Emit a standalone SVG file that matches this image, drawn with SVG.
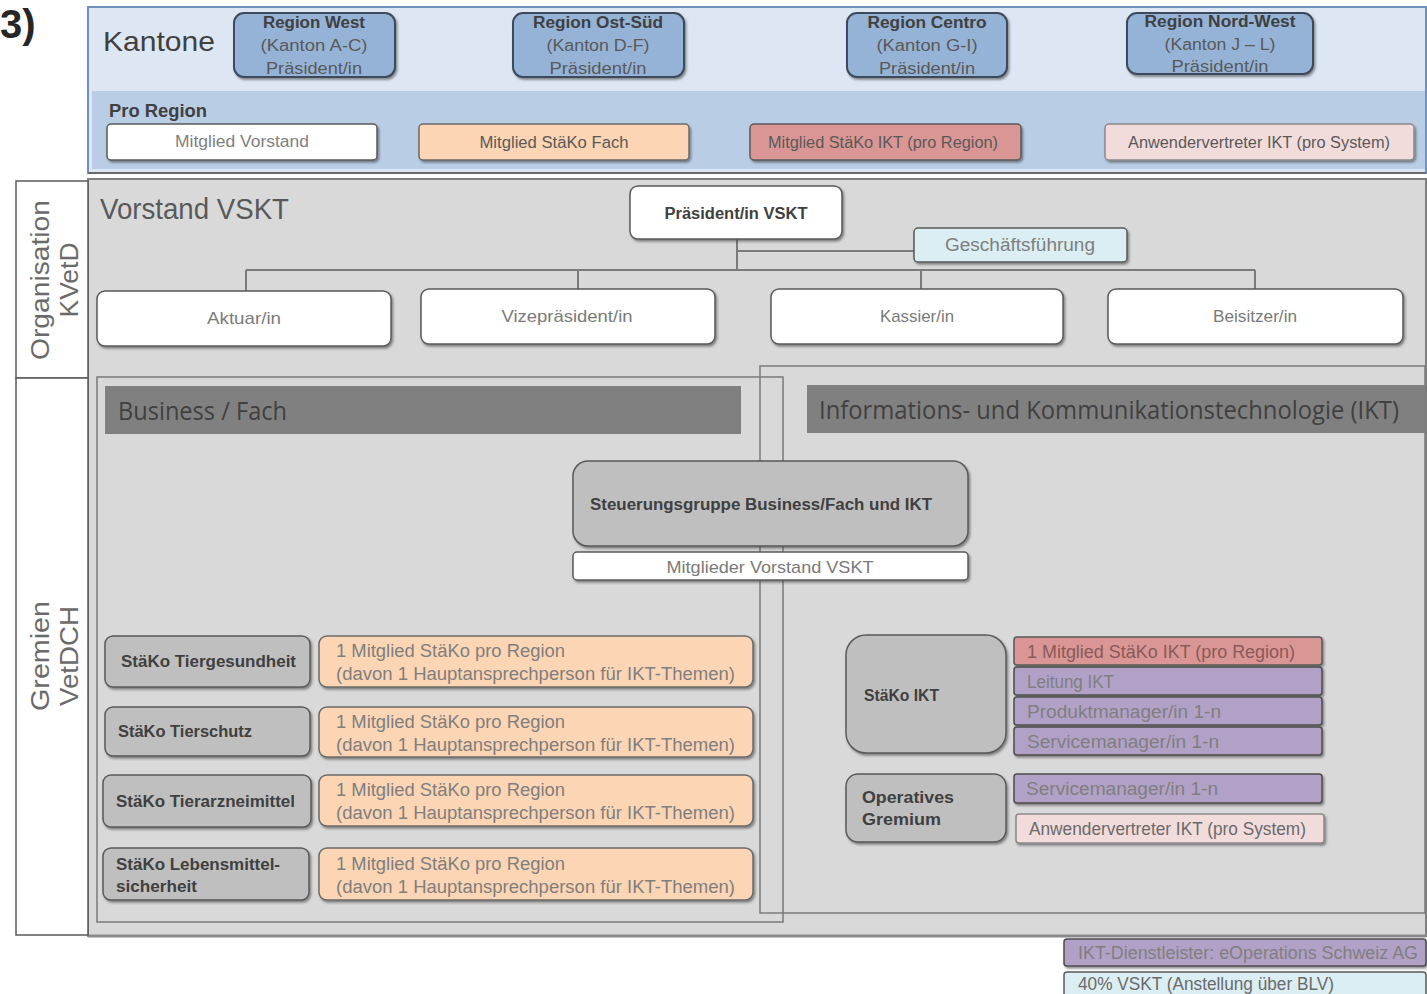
<svg xmlns="http://www.w3.org/2000/svg" width="1427" height="994" viewBox="0 0 1427 994">
<defs>
<filter id="sh" x="-10%" y="-20%" width="125%" height="150%">
<feDropShadow dx="1.5" dy="2" stdDeviation="1.2" flood-color="#3a3a3a" flood-opacity="0.55"/>
</filter>
<style>
text{font-family:"Liberation Sans",Arial,sans-serif;}
.reg{fill:#95b3d7;stroke:#3d4a5c;stroke-width:2;}
.wb{fill:#ffffff;stroke:#5a5a5a;stroke-width:1.5;}
.peach{fill:#fcd5b4;stroke:#6b6b6b;stroke-width:1.5;}
.red{fill:#da9694;stroke:#5a5a5a;stroke-width:1.5;}
.pink{fill:#f2dcdb;stroke:#8a8a8a;stroke-width:1.5;}
.purple{fill:#b2a1c7;stroke:#4d4d4d;stroke-width:1.5;}
.lblue{fill:#daeef3;stroke:#5a5a5a;stroke-width:1.5;}
.gbox{fill:#bfbfbf;stroke:#5a5a5a;stroke-width:1.5;}
.t16{font-size:16px;fill:#595959;}
.t17{font-size:17px;fill:#7a7a7a;}
.t18{font-size:18px;fill:#7f7f7f;}
.b16{font-size:16px;font-weight:bold;fill:#404040;}
.hdr{fill:#808080;}
.hdrt{font-family:"Open Sans","Liberation Sans",sans-serif;font-size:25px;fill:#404040;}
.side{font-size:26px;fill:#6a6a6a;}
.con{stroke:#7a7a7a;stroke-width:2;fill:none;}
</style>
</defs>

<rect width="1427" height="994" fill="#ffffff"/>

<text x="0" y="38" font-size="40" font-weight="bold" fill="#262626">3)</text>

<!-- Kantone panel -->
<g id="kantone">
<rect x="88" y="7" width="1338" height="166" fill="#dde7f3" stroke="#6f8fbf" stroke-width="2"/>
<rect x="92" y="91" width="1333" height="78" fill="#b9cde5"/>
<line x1="88" y1="173" x2="1426" y2="173" stroke="#6a6a6a" stroke-width="2"/>
<text x="103" y="51" font-size="28" fill="#404040" textLength="112" lengthAdjust="spacingAndGlyphs">Kantone</text>
<text x="109" y="117" font-size="19" font-weight="bold" fill="#404040" textLength="98" lengthAdjust="spacingAndGlyphs">Pro Region</text>
</g>

<g id="region-west">
<rect class="reg" x="234" y="13" width="161" height="64" rx="10" filter="url(#sh)"/>
<text class="b16" x="314" y="28" text-anchor="middle" textLength="102" lengthAdjust="spacingAndGlyphs">Region West</text>
<text class="t16" x="314" y="51" text-anchor="middle" textLength="107" lengthAdjust="spacingAndGlyphs">(Kanton A-C)</text>
<text class="t16" x="314" y="74" text-anchor="middle" textLength="96" lengthAdjust="spacingAndGlyphs">Präsident/in</text>
</g>
<g id="region-ost-sued">
<rect class="reg" x="513" y="13" width="171" height="64" rx="10" filter="url(#sh)"/>
<text class="b16" x="598" y="28" text-anchor="middle" textLength="130" lengthAdjust="spacingAndGlyphs">Region Ost-Süd</text>
<text class="t16" x="598" y="51" text-anchor="middle" textLength="103" lengthAdjust="spacingAndGlyphs">(Kanton D-F)</text>
<text class="t16" x="598" y="74" text-anchor="middle" textLength="97" lengthAdjust="spacingAndGlyphs">Präsident/in</text>
</g>
<g id="region-centro">
<rect class="reg" x="847" y="13" width="160" height="64" rx="10" filter="url(#sh)"/>
<text class="b16" x="927" y="28" text-anchor="middle" textLength="119" lengthAdjust="spacingAndGlyphs">Region Centro</text>
<text class="t16" x="927" y="51" text-anchor="middle" textLength="101" lengthAdjust="spacingAndGlyphs">(Kanton G-I)</text>
<text class="t16" x="927" y="74" text-anchor="middle" textLength="96" lengthAdjust="spacingAndGlyphs">Präsident/in</text>
</g>
<g id="region-nord-west">
<rect class="reg" x="1127" y="13" width="186" height="61" rx="10" filter="url(#sh)"/>
<text class="b16" x="1220" y="27" text-anchor="middle" textLength="151" lengthAdjust="spacingAndGlyphs">Region Nord-West</text>
<text class="t16" x="1220" y="50" text-anchor="middle" textLength="111" lengthAdjust="spacingAndGlyphs">(Kanton J – L)</text>
<text class="t16" x="1220" y="72" text-anchor="middle" textLength="97" lengthAdjust="spacingAndGlyphs">Präsident/in</text>
</g>

<g id="pr-vorstand">
<rect class="wb" x="107" y="124" width="270" height="36" rx="4" filter="url(#sh)"/>
<text class="t16" x="242" y="147" text-anchor="middle" style="fill:#7f7f7f" textLength="134" lengthAdjust="spacingAndGlyphs">Mitglied Vorstand</text>
</g>
<g id="pr-stako-fach">
<rect class="peach" x="419" y="124" width="270" height="36" rx="4" filter="url(#sh)"/>
<text class="t16" x="554" y="148" text-anchor="middle" textLength="149" lengthAdjust="spacingAndGlyphs">Mitglied StäKo Fach</text>
</g>
<g id="pr-stako-ikt">
<rect class="red" x="750" y="124" width="271" height="36" rx="4" filter="url(#sh)"/>
<text class="t16" x="883" y="148" text-anchor="middle" textLength="230" lengthAdjust="spacingAndGlyphs">Mitglied StäKo IKT (pro Region)</text>
</g>
<g id="pr-anwender">
<rect class="pink" x="1105" y="124" width="309" height="36" rx="4" filter="url(#sh)"/>
<text class="t16" x="1259" y="148" text-anchor="middle" textLength="262" lengthAdjust="spacingAndGlyphs">Anwendervertreter IKT (pro System)</text>
</g>

<!-- Gray main panel -->
<g id="panel">
<rect x="88" y="179" width="1338" height="757" fill="#d9d9d9" stroke="#7f7f7f" stroke-width="2"/>
<line x1="88" y1="936" x2="1426" y2="936" stroke="#8a8a8a" stroke-width="3"/>
</g>

<g id="label-organisation">
<rect x="16" y="181" width="72" height="197" fill="#ffffff" stroke="#5a5a5a" stroke-width="1.5"/>
<text class="side" transform="translate(49,280) rotate(-90)" text-anchor="middle" textLength="160" lengthAdjust="spacingAndGlyphs">Organisation</text>
<text class="side" transform="translate(78,280) rotate(-90)" text-anchor="middle" textLength="75" lengthAdjust="spacingAndGlyphs">KVetD</text>
</g>
<g id="label-gremien">
<rect x="16" y="378" width="72" height="557" fill="#ffffff" stroke="#5a5a5a" stroke-width="1.5"/>
<text class="side" transform="translate(49,656) rotate(-90)" text-anchor="middle" textLength="110" lengthAdjust="spacingAndGlyphs">Gremien</text>
<text class="side" transform="translate(78,656) rotate(-90)" text-anchor="middle" textLength="100" lengthAdjust="spacingAndGlyphs">VetDCH</text>
</g>

<text x="100" y="219" font-size="30" fill="#595959" textLength="189" lengthAdjust="spacingAndGlyphs">Vorstand VSKT</text>

<!-- connectors -->
<g id="connectors">
<line class="con" x1="737" y1="239" x2="737" y2="270"/>
<line class="con" x1="737" y1="251" x2="914" y2="251"/>
<line class="con" x1="246" y1="270" x2="1255" y2="270"/>
<line class="con" x1="246" y1="270" x2="246" y2="291"/>
<line class="con" x1="578" y1="270" x2="578" y2="289"/>
<line class="con" x1="921" y1="270" x2="921" y2="289"/>
<line class="con" x1="1255" y1="270" x2="1255" y2="289"/>
</g>

<g id="praesident-vskt">
<rect class="wb" x="630" y="186" width="212" height="53" rx="8" filter="url(#sh)"/>
<text class="b16" x="736" y="219" text-anchor="middle" textLength="143" lengthAdjust="spacingAndGlyphs">Präsident/in VSKT</text>
</g>
<g id="geschaeftsfuehrung">
<rect class="lblue" x="914" y="228" width="213" height="34" rx="4" filter="url(#sh)"/>
<text class="t18" x="1020" y="251" text-anchor="middle" textLength="150" lengthAdjust="spacingAndGlyphs">Geschäftsführung</text>
</g>
<g id="aktuar">
<rect class="wb" x="97" y="291" width="294" height="55" rx="8" filter="url(#sh)"/>
<text class="t17" x="244" y="324" text-anchor="middle" textLength="74" lengthAdjust="spacingAndGlyphs">Aktuar/in</text>
</g>
<g id="vizepraesident">
<rect class="wb" x="421" y="289" width="294" height="55" rx="8" filter="url(#sh)"/>
<text class="t17" x="567" y="322" text-anchor="middle" textLength="131" lengthAdjust="spacingAndGlyphs">Vizepräsident/in</text>
</g>
<g id="kassier">
<rect class="wb" x="771" y="289" width="292" height="55" rx="8" filter="url(#sh)"/>
<text class="t17" x="917" y="322" text-anchor="middle" textLength="74" lengthAdjust="spacingAndGlyphs">Kassier/in</text>
</g>
<g id="beisitzer">
<rect class="wb" x="1108" y="289" width="295" height="55" rx="8" filter="url(#sh)"/>
<text class="t17" x="1255" y="322" text-anchor="middle" textLength="84" lengthAdjust="spacingAndGlyphs">Beisitzer/in</text>
</g>

<!-- Business / Fach -->
<g id="business-fach">
<rect x="97" y="377" width="686" height="545" fill="none" stroke="#7a7a7a" stroke-width="1.5"/>
<rect class="hdr" x="105" y="386" width="636" height="48"/>
<text class="hdrt" x="118" y="420" textLength="169" lengthAdjust="spacingAndGlyphs">Business / Fach</text>
</g>
<g id="ikt">
<rect x="760" y="366" width="665" height="547" fill="none" stroke="#7a7a7a" stroke-width="1.5"/>
<rect class="hdr" x="807" y="385" width="618" height="48"/>
<text class="hdrt" x="819" y="419" textLength="580" lengthAdjust="spacingAndGlyphs">Informations- und Kommunikationstechnologie (IKT)</text>
</g>

<g id="steuerungsgruppe">
<rect class="gbox" x="573" y="461" width="395" height="85" rx="15" filter="url(#sh)"/>
<text class="b16" x="761" y="510" text-anchor="middle" textLength="342" lengthAdjust="spacingAndGlyphs">Steuerungsgruppe Business/Fach und IKT</text>
</g>
<g id="mitglieder-vorstand">
<rect class="wb" x="573" y="552" width="395" height="28" rx="4" filter="url(#sh)"/>
<text class="t17" x="770" y="573" text-anchor="middle" textLength="207" lengthAdjust="spacingAndGlyphs">Mitglieder Vorstand VSKT</text>
</g>

<g id="stako-tiergesundheit">
<rect class="gbox" x="105" y="636" width="205" height="51" rx="8" filter="url(#sh)"/>
<text class="b16" x="121" y="667" textLength="175" lengthAdjust="spacingAndGlyphs">StäKo Tiergesundheit</text>
<rect class="peach" x="319" y="636" width="434" height="51" rx="8" filter="url(#sh)"/>
<text class="t18" x="336" y="657" textLength="229" lengthAdjust="spacingAndGlyphs">1 Mitglied StäKo pro Region</text>
<text class="t18" x="336" y="680" textLength="399" lengthAdjust="spacingAndGlyphs">(davon 1 Hauptansprechperson für IKT-Themen)</text>
</g>
<g id="stako-tierschutz">
<rect class="gbox" x="105" y="707" width="205" height="49" rx="8" filter="url(#sh)"/>
<text class="b16" x="118" y="737" textLength="134" lengthAdjust="spacingAndGlyphs">StäKo Tierschutz</text>
<rect class="peach" x="319" y="707" width="434" height="50" rx="8" filter="url(#sh)"/>
<text class="t18" x="336" y="728" textLength="229" lengthAdjust="spacingAndGlyphs">1 Mitglied StäKo pro Region</text>
<text class="t18" x="336" y="751" textLength="399" lengthAdjust="spacingAndGlyphs">(davon 1 Hauptansprechperson für IKT-Themen)</text>
</g>
<g id="stako-tierarzneimittel">
<rect class="gbox" x="103" y="775" width="208" height="52" rx="8" filter="url(#sh)"/>
<text class="b16" x="116" y="807" textLength="179" lengthAdjust="spacingAndGlyphs">StäKo Tierarzneimittel</text>
<rect class="peach" x="319" y="775" width="434" height="51" rx="8" filter="url(#sh)"/>
<text class="t18" x="336" y="796" textLength="229" lengthAdjust="spacingAndGlyphs">1 Mitglied StäKo pro Region</text>
<text class="t18" x="336" y="819" textLength="399" lengthAdjust="spacingAndGlyphs">(davon 1 Hauptansprechperson für IKT-Themen)</text>
</g>
<g id="stako-lebensmittelsicherheit">
<rect class="gbox" x="103" y="848" width="206" height="52" rx="8" filter="url(#sh)"/>
<text class="b16" x="116" y="870" textLength="164" lengthAdjust="spacingAndGlyphs">StäKo Lebensmittel-</text>
<text class="b16" x="116" y="892" textLength="81" lengthAdjust="spacingAndGlyphs">sicherheit</text>
<rect class="peach" x="319" y="848" width="434" height="52" rx="8" filter="url(#sh)"/>
<text class="t18" x="336" y="870" textLength="229" lengthAdjust="spacingAndGlyphs">1 Mitglied StäKo pro Region</text>
<text class="t18" x="336" y="893" textLength="399" lengthAdjust="spacingAndGlyphs">(davon 1 Hauptansprechperson für IKT-Themen)</text>
</g>

<g id="stako-ikt">
<rect class="gbox" x="846" y="635" width="160" height="118" rx="20" filter="url(#sh)"/>
<text class="b16" x="864" y="701" textLength="75" lengthAdjust="spacingAndGlyphs">StäKo IKT</text>
<rect class="red" x="1014" y="637" width="308" height="28" rx="3" filter="url(#sh)"/>
<text class="t18" x="1027" y="658" style="fill:#8a5a5a" textLength="268" lengthAdjust="spacingAndGlyphs">1 Mitglied StäKo IKT (pro Region)</text>
<rect class="purple" x="1014" y="667" width="308" height="28" rx="3" filter="url(#sh)"/>
<text class="t18" x="1027" y="688" textLength="87" lengthAdjust="spacingAndGlyphs">Leitung IKT</text>
<rect class="purple" x="1014" y="697" width="308" height="28" rx="3" filter="url(#sh)"/>
<text class="t18" x="1027" y="718" textLength="194" lengthAdjust="spacingAndGlyphs">Produktmanager/in 1-n</text>
<rect class="purple" x="1014" y="727" width="308" height="28" rx="3" filter="url(#sh)"/>
<text class="t18" x="1027" y="748" textLength="192" lengthAdjust="spacingAndGlyphs">Servicemanager/in 1-n</text>
</g>

<g id="operatives-gremium">
<rect class="gbox" x="846" y="774" width="160" height="68" rx="12" filter="url(#sh)"/>
<text class="b16" x="862" y="803" textLength="92" lengthAdjust="spacingAndGlyphs">Operatives</text>
<text class="b16" x="862" y="825" textLength="79" lengthAdjust="spacingAndGlyphs">Gremium</text>
<rect class="purple" x="1014" y="774" width="308" height="29" rx="3" filter="url(#sh)"/>
<text class="t18" x="1026" y="795" textLength="192" lengthAdjust="spacingAndGlyphs">Servicemanager/in 1-n</text>
<rect class="pink" x="1016" y="814" width="308" height="29" rx="3" filter="url(#sh)"/>
<text class="t18" x="1029" y="835" style="fill:#6a6a6a" textLength="277" lengthAdjust="spacingAndGlyphs">Anwendervertreter IKT (pro System)</text>
</g>

<g id="legend-eoperations">
<rect class="purple" x="1064" y="939" width="362" height="27" rx="3" filter="url(#sh)"/>
<text class="t18" x="1078" y="959" textLength="340" lengthAdjust="spacingAndGlyphs">IKT-Dienstleister: eOperations Schweiz AG</text>
</g>
<g id="legend-vskt">
<rect class="lblue" x="1064" y="972" width="362" height="30" rx="3"/>
<text class="t18" x="1078" y="990" style="fill:#6a6a6a" textLength="256" lengthAdjust="spacingAndGlyphs">40% VSKT (Anstellung über BLV)</text>
</g>
</svg>
